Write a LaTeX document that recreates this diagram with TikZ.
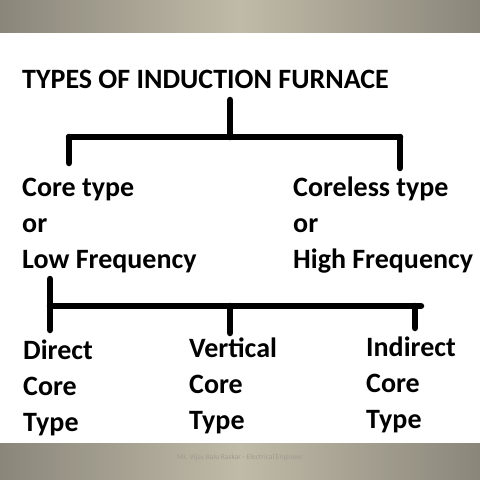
\documentclass[tikz,border=0pt]{standalone}
\usepackage{fontspec}
\setmainfont{Carlito}
\definecolor{BandEdge}{RGB}{138,134,122}
\definecolor{BandMid}{RGB}{192,187,168}
\definecolor{FootText}{RGB}{160,155,143}

\begin{document}
\begin{tikzpicture}[x=1pt, y=-1pt,
  bracket/.style={line width=6.5pt, line cap=round, black},
  label/.style={font=\bfseries\fontsize{28}{36}\selectfont, align=left,
    anchor=base west, inner sep=0pt}]

  \useasboundingbox (0,0) rectangle (480,480);
  \fill[white] (0,0) rectangle (480,480);

  % slide bands
  \shade[left color=BandEdge, right color=BandEdge, middle color=BandMid]
    (0,0) rectangle (480,32);
  \shade[left color=BandEdge, right color=BandEdge, middle color=BandMid]
    (0,443) rectangle (480,480);

  % base anchor sits on the last line
  \node[label] (title) at (22,88) {TYPES OF INDUCTION FURNACE};
  \node[label] (core) at (22,268) {Core type\\or\\Low Frequency};
  \node[label] (coreless) at (293,268) {Coreless type\\or\\High Frequency};
  \node[label] (direct) at (23,431) {Direct\\Core\\Type};
  \node[label] (vertical) at (189,429) {Vertical\\Core\\Type};
  \node[label] (indirect) at (366,428) {Indirect\\Core\\Type};
  \node[font=\fontsize{7.5}{9}\selectfont, text=FootText] (credit)
    at (240,458) {Mr. Vijay Balu Raskar - Electrical Engineer};

  % first bracket
  \coordinate (stemA) at (230,100);
  \coordinate (splitA) at (230,137);
  \coordinate (coreEnd) at (69,163);
  \coordinate (corelessEnd) at (400,168);
  \draw[bracket] (stemA) -- (splitA);
  \draw[bracket] (coreEnd |- splitA) -- (corelessEnd |- splitA);
  \draw[bracket] (coreEnd |- splitA) -- (coreEnd);
  \draw[bracket] (corelessEnd |- splitA) -- (corelessEnd);

  % second bracket
  \coordinate (stemB) at (50,279);
  \coordinate (splitB) at (50,306);
  \coordinate (barEnd) at (421,306);
  \coordinate (directEnd) at (50,330);
  \coordinate (verticalEnd) at (230,333);
  \coordinate (indirectEnd) at (415,328);
  \draw[bracket] (stemB) -- (directEnd);
  \draw[bracket] (splitB) -- (barEnd);
  \draw[bracket] (verticalEnd |- splitB) -- (verticalEnd);
  \draw[bracket] (indirectEnd |- splitB) -- (indirectEnd);

\end{tikzpicture}
\end{document}
